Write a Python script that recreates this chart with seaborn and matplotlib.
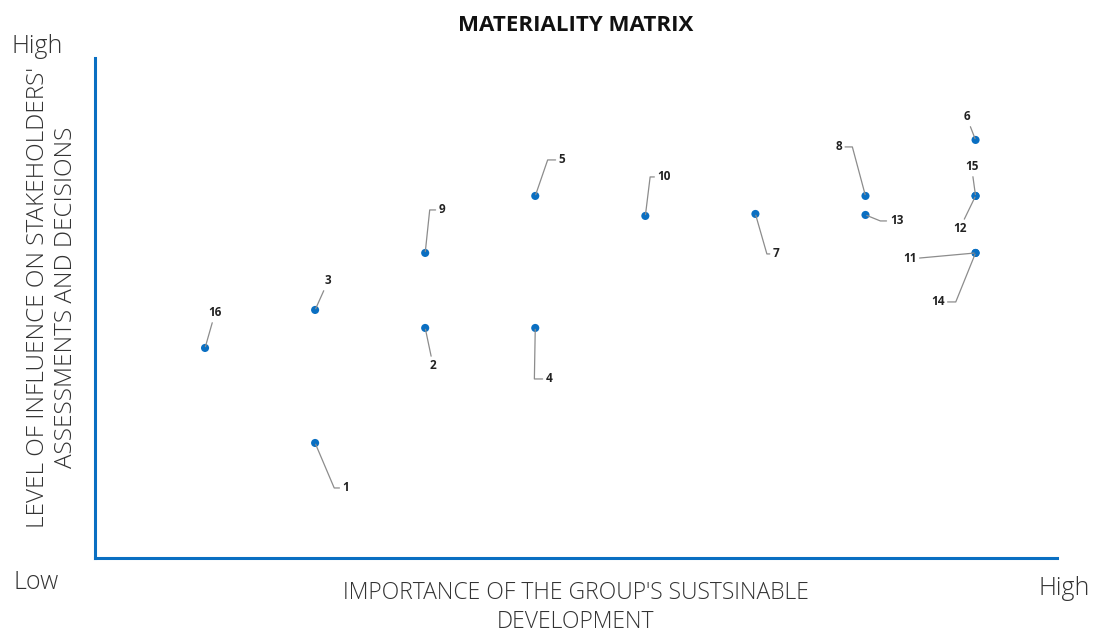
import numpy as np
import pandas as pd
import seaborn as sns
import matplotlib.pyplot as plt

# Topic positions
topics = ['1', '2', '3', '4', '5', '6', '7', '8', '9', '10', '11', '12', '13', '14', '15', '16']
importance = [2, 3, 2, 4, 4, 8, 6, 7, 3, 5, 8, 8, 7, 8, 8, 1]
influence = [2.3, 4.6, 4.96, 4.6, 7.24, 8.36, 6.88, 7.24, 6.1, 6.84, 6.1, 7.24, 6.86, 6.1, 7.24, 4.2]

df = pd.DataFrame({'topic': topics, 'importance': importance, 'influence': influence})

# label offsets (pixels) and leader elbow angle (None = straight line)
label_offsets = {
    '1': (31, -45, -67), '2': (8, -38, None), '3': (13, 29, None), '4': (14, -51, 89),
    '5': (27, 36, 71), '6': (-9, 23, None), '7': (21, -40, -74), '8': (-27, 49, 105),
    '9': (17, 43, 84), '10': (19, 39, 83), '11': (-66, -6, None), '12': (-16, -33, None),
    '13': (31, -6, -22), '14': (-38, -49, -112), '15': (-4, 29, None), '16': (10, 35, None),
}

blue = '#0a6fc2'
sns.set_style('white')
plt.rcParams['font.family'] = ['Open Sans', 'DejaVu Sans']

fig = plt.figure(figsize=(10.94, 6.33), dpi=100)
ax = fig.add_axes([0.0868, 0.1185, 0.8794, 0.79])

sns.scatterplot(data=df, x='importance', y='influence', color=blue, s=34,
                edgecolor='none', ax=ax, zorder=3)

for _, row in df.iterrows():
    dx, dy, ang = label_offsets[row['topic']]
    if ang is None:
        cs = 'arc3'
    else:
        cs = 'angle,angleA=0,angleB=%d,rad=0' % ang
    ax.annotate(row['topic'], xy=(row['importance'], row['influence']),
                xytext=(dx, dy), textcoords='offset pixels',
                ha='center', va='center', fontsize=8.5, fontweight='bold', color='#222222',
                arrowprops=dict(arrowstyle='-', color='#8c8c8c', lw=0.9,
                                connectionstyle=cs, shrinkA=0, shrinkB=1))

ax.set_xlim(0, 8.74)
ax.set_ylim(0, 10)
ax.set_xticks([])
ax.set_yticks([])
ax.set_xlabel('')
ax.set_ylabel('')
for side in ['top', 'right']:
    ax.spines[side].set_visible(False)
for side in ['left', 'bottom']:
    ax.spines[side].set_color(blue)
    ax.spines[side].set_linewidth(2.2)

fig.text(0.526, 0.96, 'MATERIALITY MATRIX', ha='center', va='center',
         fontsize=16, fontweight='bold', color='#111111')
fig.text(0.034, 0.927, 'High', ha='center', va='center', fontsize=18, fontweight='light', color='#333333')
fig.text(0.033, 0.08, 'Low', ha='center', va='center', fontsize=18, fontweight='light', color='#333333')
fig.text(0.973, 0.071, 'High', ha='center', va='center', fontsize=18, fontweight='light', color='#333333')
fig.text(0.526, 0.04, "IMPORTANCE OF THE GROUP'S SUSTSINABLE\nDEVELOPMENT", ha='center', va='center',
         fontsize=16.5, fontweight='light', color='#333333', linespacing=1.3)
fig.text(0.0475, 0.53, "LEVEL OF INFLUENCE ON STAKEHOLDERS'\nASSESSMENTS AND DECISIONS", ha='center', va='center',
         rotation=90, fontsize=17.5, fontweight='light', color='#333333', linespacing=1.22)

fig.savefig('out.png', dpi=100)
